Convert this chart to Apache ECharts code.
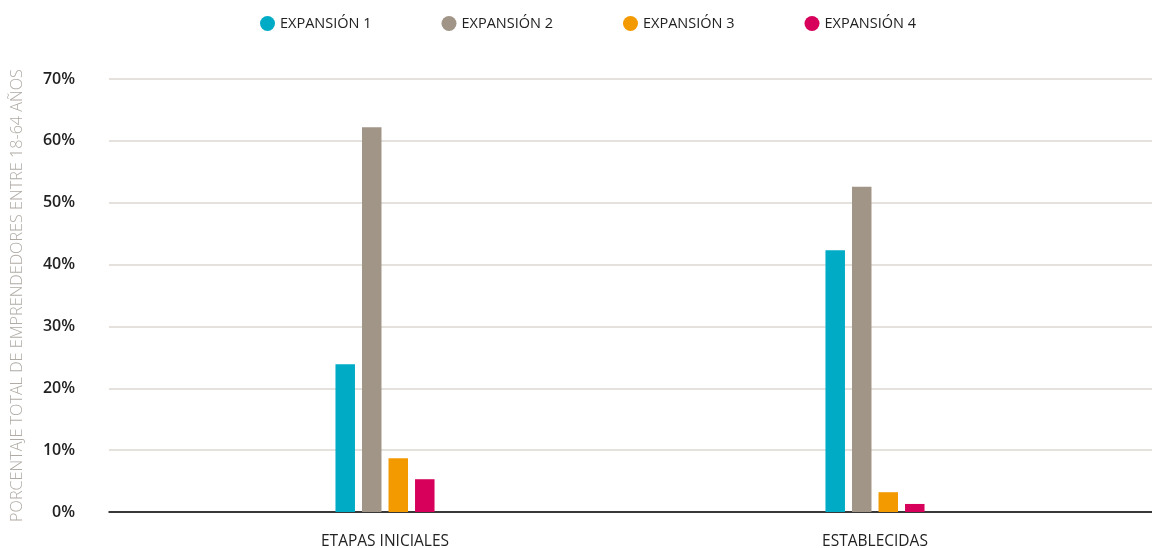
<!DOCTYPE html>
<html>
<head>
<meta charset="utf-8">
<script src="https://cdn.jsdelivr.net/npm/echarts@6/dist/echarts.min.js"></script>
<style>
html,body{margin:0;padding:0;background:#fff;}
#chart{width:1152px;height:548px;}
</style>
</head>
<body>
<div id="chart"></div>
<script>
const categories = ['ETAPAS INICIALES', 'ESTABLECIDAS'];
const seriesNames = ['EXPANSIÓN 1', 'EXPANSIÓN 2', 'EXPANSIÓN 3', 'EXPANSIÓN 4'];
const expansion1 = [23.9, 42.3];
const expansion2 = [62.2, 52.6];
const expansion3 = [8.7, 3.2];
const expansion4 = [5.3, 1.3];
const yTicks = [0, 10, 20, 30, 40, 50, 60, 70];
const yTitle = 'PORCENTAJE TOTAL DE EMPRENDEDORES ENTRE 18-64 AÑOS';
const colors = ['#00abc6', '#a19588', '#f39a00', '#d7005b'];

const font = '"Open Sans", "Noto Sans", sans-serif';
const chart = echarts.init(document.getElementById('chart'));
const values = [expansion1, expansion2, expansion3, expansion4];

chart.setOption({
  animation: false,
  textStyle: { fontFamily: font },
  color: colors,
  legend: {
    top: 11,
    left: 255,
    icon: 'circle',
    itemWidth: 15,
    itemHeight: 15,
    itemGap: 70,
    textStyle: { fontFamily: font, fontSize: 14.5, color: '#222' },
    data: seriesNames
  },
  grid: [
    { left: 109, right: 0, top: 79, bottom: 36, outerBoundsMode: 'none', containLabel: false },
    { left: 140, right: 32, top: 79, bottom: 36, outerBoundsMode: 'none', containLabel: false }
  ],
  xAxis: [
    {
      gridIndex: 0, type: 'value', min: 0, max: 1,
      axisLine: { show: true, onZero: false, lineStyle: { color: '#000', width: 1.5 } },
      axisTick: { show: false }, axisLabel: { show: false }, splitLine: { show: false }
    },
    {
      gridIndex: 1, type: 'category', data: categories,
      axisLine: { show: false }, axisTick: { show: false },
      axisLabel: { fontFamily: font, fontSize: 15.5, color: '#222', margin: 22 }
    }
  ],
  yAxis: [
    {
      gridIndex: 0, type: 'value', min: yTicks[0], max: yTicks[yTicks.length - 1], interval: 10,
      axisLine: { show: false }, axisTick: { show: false },
      axisLabel: { formatter: '{value}%', fontFamily: font, fontSize: 16, fontWeight: 600, color: '#222', margin: 34 },
      splitLine: { lineStyle: { color: '#dcd8d3', width: 1.5 } },
      name: yTitle, nameLocation: 'middle', nameRotate: 90, nameGap: 84,
      nameTextStyle: { fontFamily: font, fontSize: 16.2, fontWeight: 300, color: '#b0aba5' }
    },
    {
      gridIndex: 1, type: 'value', min: 0, max: 70, show: false
    }
  ],
  series: seriesNames.map((n, i) => ({
    name: n,
    type: 'bar',
    xAxisIndex: 1,
    yAxisIndex: 1,
    data: values[i],
    barWidth: 19.5,
    barGap: '36%',
    itemStyle: { color: colors[i] }
  }))
});
</script>
</body>
</html>
